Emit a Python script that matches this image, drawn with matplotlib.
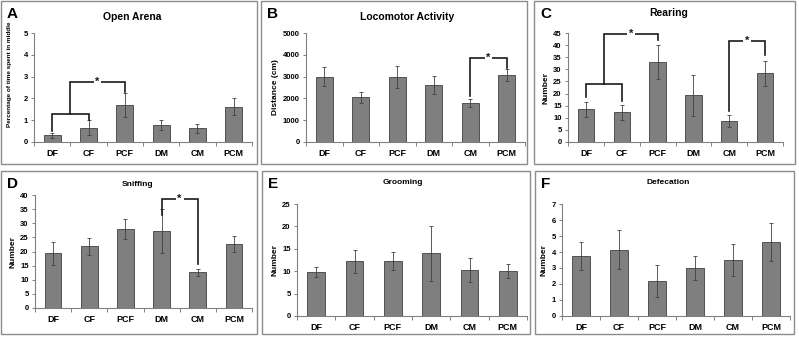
import matplotlib
matplotlib.use("Agg")
import matplotlib.pyplot as plt
from matplotlib.patches import Rectangle
from matplotlib.ticker import MultipleLocator, FixedLocator
import numpy as np

plt.rcParams['font.family'] = ['Liberation Sans', 'DejaVu Sans']
plt.rcParams['font.weight'] = 'bold'

W, H = 799, 339

## DATA
groups = ["DF", "CF", "PCF", "DM", "CM", "PCM"]

arena_mean = [0.30, 0.65, 1.68, 0.78, 0.62, 1.62]
arena_err = [0.10, 0.35, 0.55, 0.22, 0.20, 0.38]

loco_mean = [3000, 2050, 3000, 2630, 1800, 3070]
loco_err = [450, 250, 500, 420, 180, 280]

rear_mean = [13.5, 12.2, 33.2, 19.2, 8.7, 28.3]
rear_err = [3.0, 3.2, 7.0, 8.5, 2.5, 5.3]

sniff_mean = [19.3, 21.8, 28.0, 27.3, 12.6, 22.7]
sniff_err = [4.0, 3.0, 3.6, 7.7, 1.3, 2.8]

groom_mean = [9.8, 12.2, 12.2, 14.0, 10.3, 10.0]
groom_err = [1.2, 2.5, 2.0, 6.2, 2.6, 1.6]

defec_mean = [3.75, 4.15, 2.20, 3.00, 3.50, 4.62]
defec_err = [0.90, 1.20, 1.00, 0.78, 0.97, 1.20]

# significance brackets: (x_left, x_right, y_bar, y_left_end, y_right_end, star)
arena_sig = [(0, 1, 1.30, 0.50, 1.00, False), (0.5, 2, 2.75, 1.30, 2.30, True)]
loco_sig = [(4, 5, 3850, 2100, 3400, True)]
rear_sig = [(0, 1, 24.0, 18.5, 17.0, False), (0.5, 2, 44.5, 24.0, 42.0, True),
            (4, 5, 41.8, 13.0, 36.0, True)]
sniff_sig = [(3, 4, 38.6, 33.0, 15.5, True)]

fig = plt.figure(figsize=(W / 100, H / 100), dpi=100)


def fx(x):
    return x / W


def fy(y):
    return 1 - y / H


def border(x0, y0, x1, y1):
    fig.patches.append(Rectangle((fx(x0), fy(y1)), fx(x1 - x0), (y1 - y0) / H,
                                 transform=fig.transFigure, fill=False,
                                 edgecolor='#8c8c8c', lw=1.0))


def panel(box, ax_px, letter, title, title_xy, tsize, mean, err, ymax, ystep,
          ylabel, sig=None, lab_size=6, lab_y=0.5):
    x0, y0, x1, y1 = box
    border(x0, y0, x1, y1)
    l, t, r, b = ax_px
    ax = fig.add_axes([fx(l), fy(b), fx(r - l), (b - t) / H])
    xs = np.arange(len(groups))
    ax.bar(xs, mean, width=0.46, color='#7f7f7f', edgecolor='#404040', lw=0.6,
           zorder=2)
    ax.errorbar(xs, mean, yerr=err, fmt='none', ecolor='#404040', elinewidth=0.6,
                capsize=1.6, capthick=0.6, zorder=3)
    ax.set_xlim(-0.5, len(groups) - 0.5)
    ax.set_ylim(0, ymax)
    ax.yaxis.set_major_locator(MultipleLocator(ystep))
    ax.set_xticks(xs)
    ax.set_xticklabels(groups, fontsize=6.5, fontweight='bold')
    ax.xaxis.set_minor_locator(FixedLocator(np.arange(-0.5, len(groups), 1.0)))
    ax.tick_params(axis='x', which='major', length=0, pad=5)
    ax.tick_params(axis='x', which='minor', length=3, color='#808080', width=0.7)
    ax.tick_params(axis='y', length=2.5, color='#808080', width=0.7, labelsize=5.5,
                   pad=2)
    for lab in ax.get_yticklabels():
        lab.set_fontweight('bold')
    for s in ['top', 'right']:
        ax.spines[s].set_visible(False)
    for s in ['left', 'bottom']:
        ax.spines[s].set_color('#808080')
        ax.spines[s].set_linewidth(0.8)
    ax.set_ylabel(ylabel, fontsize=lab_size, fontweight='bold', labelpad=3)
    if lab_y != 0.5:
        ax.yaxis.set_label_coords(-0.1, lab_y)
    ax.patch.set_alpha(0)
    if sig:
        for xa, xb, yh, ya, yb, star in sig:
            ax.plot([xa, xa, xb, xb], [ya, yh, yh, yb], color='#1a1a1a', lw=1.2,
                    clip_on=False, zorder=4, solid_joinstyle='miter')
            if star:
                ax.text((xa + xb) / 2, yh, '*', ha='center', va='center',
                        fontsize=8, fontweight='bold', color='#1a1a1a', zorder=5,
                        bbox=dict(boxstyle='square,pad=0.15', fc='white', ec='none'))
    fig.text(fx(x0 + 6), fy(y0 + 6), letter, fontsize=11, fontweight='bold',
             ha='left', va='top')
    fig.text(fx(title_xy[0]), fy(title_xy[1]), title, fontsize=tsize,
             fontweight='bold', ha='center', va='center')
    return ax


panel((1, 1, 257, 164), (34, 33, 252, 142), 'A', 'Open Arena', (132, 17), 7.5,
      arena_mean, arena_err, 5, 1, 'Percentage of time spent in middle', arena_sig,
      lab_size=4.6, lab_y=0.62)
panel((261, 1, 527, 164), (306, 33, 525, 142), 'B', 'Locomotor Activity', (407, 17),
      7.5, loco_mean, loco_err, 5000, 1000, 'Distance (cm)', loco_sig)
panel((534, 1, 795, 164), (568, 33, 783, 142), 'C', 'Rearing', (669, 13), 7.5,
      rear_mean, rear_err, 45, 5, 'Number', rear_sig)
panel((1, 171, 257, 334), (35, 195, 252, 308), 'D', 'Sniffing', (138, 184), 6,
      sniff_mean, sniff_err, 40, 5, 'Number', sniff_sig)
panel((262, 171, 530, 334), (297, 204, 527, 316), 'E', 'Grooming', (403, 183), 6,
      groom_mean, groom_err, 25, 5, 'Number')
panel((535, 171, 794, 334), (562, 204, 790, 316), 'F', 'Defecation', (668, 183), 6,
      defec_mean, defec_err, 7, 1, 'Number')

fig.savefig('out.png', dpi=100)
